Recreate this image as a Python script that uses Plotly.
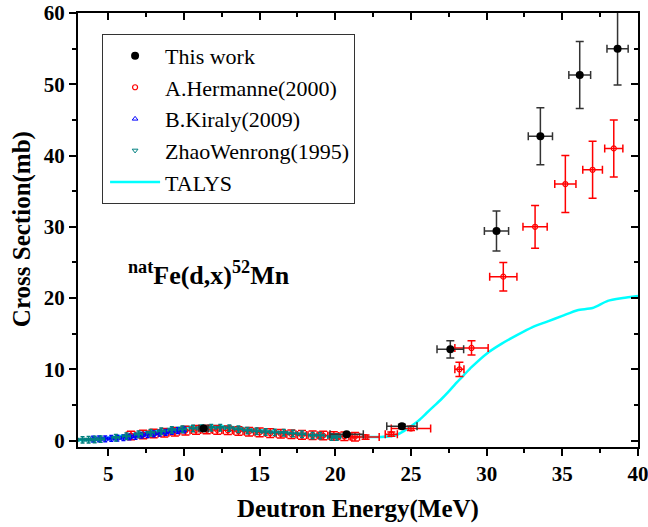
import plotly.graph_objects as go

# ---------------- data ----------------
talys_x = [3, 4, 5, 6, 7, 8, 9, 10, 11, 12, 13, 14, 15, 16, 17, 18, 19, 20, 21, 22, 23, 24,
           24.5, 25, 25.5, 26, 26.5, 27, 27.5, 28, 28.5, 29, 30, 31, 32, 33, 34, 35, 36, 37, 38, 39, 40]
talys_y = [0.05, 0.15, 0.4, 0.7, 1.0, 1.35, 1.65, 1.9, 2.05, 2.05, 1.95, 1.75, 1.5, 1.25, 1.0, 0.85,
           0.7, 0.6, 0.55, 0.5, 0.5, 0.75, 1.3, 2.0, 2.8, 3.8, 4.8, 5.8, 6.9, 8.1, 9.2, 10.3, 12.2,
           13.6, 14.8, 15.9, 16.7, 17.5, 18.3, 18.6, 19.6, 20.0, 20.3]

work_x = [11.3, 20.75, 24.4, 27.6, 30.65, 33.55, 36.15, 38.65]
work_y = [1.7, 0.9, 2.0, 12.8, 29.4, 42.7, 51.3, 55.0]
work_xerr = [0.3, 1.1, 1.0, 0.88, 0.8, 0.8, 0.72, 0.7]
work_yerr = [0.3, 0.2, 0.3, 1.2, 2.8, 4.0, 4.7, 5.1]

herm_x = [6.5, 7.3, 8.0, 8.7, 9.4, 10.1, 10.8, 11.5, 12.2, 12.9, 13.6, 14.3, 15.0, 15.7, 16.4,
          17.1, 17.8, 18.5, 19.2, 19.9, 20.6, 21.3, 22.0, 23.7, 25.0, 28.2, 29.0, 31.1, 33.2,
          35.2, 37.0, 38.4]
herm_y = [0.7, 0.85, 1.0, 1.1, 1.25, 1.4, 1.5, 1.55, 1.5, 1.45, 1.35, 1.25, 1.15, 1.05, 0.95,
          0.9, 0.8, 0.75, 0.7, 0.65, 0.6, 0.55, 0.5, 0.9, 1.7, 10.0, 13.0, 23.0, 30.0, 36.0,
          38.0, 41.0]
herm_xerr = [0.3] * 22 + [0.9, 0.4, 1.3, 0.3, 1.1, 0.9, 0.8, 0.7, 0.65, 0.6]
herm_yerr = [0.6] * 22 + [0.3, 0.3, 0.3, 1.0, 1.0, 2.0, 3.0, 4.0, 4.0, 4.0]

kir_x = [4.0, 4.4, 4.8, 5.2, 5.6, 6.0, 6.4, 6.8, 7.2, 7.6, 8.0, 8.4, 8.8, 9.2, 9.6, 10.0]
kir_y = [0.2, 0.25, 0.25, 0.3, 0.35, 0.4, 0.5, 0.6, 0.75, 0.85, 0.95, 1.05, 1.15, 1.3, 1.4, 1.5]
kir_xerr = [0.15] * 16
kir_yerr = [0.4] * 16

zhao_x = [3.3, 3.7, 4.1, 4.5, 5.5, 6.2, 7.0, 7.8, 8.5, 9.2, 9.9, 10.6, 11.2, 11.8, 12.4, 13.0,
          13.6, 14.2, 14.8, 15.4, 16.0, 16.6, 17.2, 17.8, 18.5, 19.0, 19.75, 20.1]
zhao_y = [0.1, 0.12, 0.15, 0.2, 0.4, 0.6, 0.9, 1.1, 1.3, 1.5, 1.6, 1.7, 1.75, 1.8, 1.8, 1.75,
          1.6, 1.4, 1.3, 1.2, 1.15, 1.1, 1.0, 0.9, 0.7, 0.7, 0.5, 0.5]
zhao_xerr = [0.25] * 28
zhao_yerr = [0.45] * 28

x_range = [3, 40]
y_range = [-0.9, 60]
x_ticks = [5, 10, 15, 20, 25, 30, 35, 40]
y_ticks = [0, 10, 20, 30, 40, 50, 60]

FONT = "Liberation Serif"
TEAL = "#008080"

fig = go.Figure()

fig.add_trace(go.Scatter(
    x=talys_x, y=talys_y, mode="lines", name="TALYS", legendrank=5,
    line=dict(color="#00ffff", width=2.5, shape="spline", smoothing=0.6)))

fig.add_trace(go.Scatter(
    x=herm_x, y=herm_y, mode="markers", name="A.Hermanne(2000)", legendrank=2,
    marker=dict(symbol="circle-open", size=5, color="red", line=dict(width=1.2, color="red")),
    error_x=dict(type="data", array=herm_xerr, color="red", thickness=1.5, width=4),
    error_y=dict(type="data", array=herm_yerr, color="red", thickness=1.5, width=4)))

fig.add_trace(go.Scatter(
    x=kir_x, y=kir_y, mode="markers", name="B.Kiraly(2009)", legendrank=3,
    marker=dict(symbol="triangle-up-open", size=5, color="blue", line=dict(width=1, color="blue")),
    error_x=dict(type="data", array=kir_xerr, color="blue", thickness=1.5, width=2),
    error_y=dict(type="data", array=kir_yerr, color="blue", thickness=1.5, width=2)))

fig.add_trace(go.Scatter(
    x=zhao_x, y=zhao_y, mode="markers", name="ZhaoWenrong(1995)", legendrank=4,
    marker=dict(symbol="triangle-down-open", size=5, color=TEAL, line=dict(width=1, color=TEAL)),
    error_x=dict(type="data", array=zhao_xerr, color=TEAL, thickness=1.5, width=2),
    error_y=dict(type="data", array=zhao_yerr, color=TEAL, thickness=1.5, width=2)))

fig.add_trace(go.Scatter(
    x=work_x, y=work_y, mode="markers", name="This work", legendrank=1,
    marker=dict(symbol="circle", size=8, color="black"),
    error_x=dict(type="data", array=work_xerr, color="#333333", thickness=1.5, width=4),
    error_y=dict(type="data", array=work_yerr, color="#333333", thickness=1.5, width=4)))

# empty trace so that the mirrored top/right frame axes are drawn
fig.add_trace(go.Scatter(x=[], y=[], xaxis="x2", yaxis="y2", showlegend=False, hoverinfo="skip"))

tickfont = dict(family=FONT, size=21, color="black", weight="bold")
titlefont = dict(family=FONT, size=25, color="black", weight="bold")

common = dict(showline=True, linewidth=2, linecolor="black", showgrid=False, zeroline=False,
              tickcolor="black", tickwidth=2, ticklen=7, automargin=False,
              ticklabeloverflow="allow")

fig.update_layout(
    width=648, height=527,
    margin=dict(l=78, r=10, t=13, b=80, autoexpand=False),
    plot_bgcolor="white", paper_bgcolor="white",
    showlegend=True,
    legend=dict(
        x=0.043, y=0.952, xanchor="left", yanchor="top",
        bgcolor="white", bordercolor="#333333", borderwidth=1,
        font=dict(family=FONT, size=22, color="black"),
        tracegroupgap=0, indentation=2, itemwidth=50, traceorder="normal",
    ),
    xaxis=dict(
        range=x_range, tickmode="array", tickvals=x_ticks, ticks="outside",
        minor=dict(dtick=2.5, tick0=0, ticks="outside", ticklen=4, tickwidth=2, tickcolor="black"),
        tickfont=tickfont,
        title=dict(text="Deutron Energy(MeV)", font=titlefont, standoff=14),
        **common,
    ),
    yaxis=dict(
        range=y_range, tickmode="array", tickvals=y_ticks, ticks="outside",
        minor=dict(dtick=5, tick0=0, ticks="outside", ticklen=4, tickwidth=2, tickcolor="black"),
        tickfont=tickfont,
        **common,
    ),
    xaxis2=dict(
        overlaying="x", side="top", anchor="y2", range=x_range, tickmode="array", tickvals=x_ticks,
        ticks="inside", showticklabels=False,
        minor=dict(dtick=2.5, tick0=0, ticks="inside", ticklen=4, tickwidth=2, tickcolor="black"),
        **common,
    ),
    yaxis2=dict(
        overlaying="y", side="right", anchor="x2", range=y_range, tickmode="array", tickvals=y_ticks,
        ticks="inside", showticklabels=False,
        minor=dict(dtick=5, tick0=0, ticks="inside", ticklen=4, tickwidth=2, tickcolor="black"),
        **common,
    ),
    annotations=[
        dict(
            x=11.65, y=23.4, xref="x", yref="y", showarrow=False,
            text="<sup>nat</sup>Fe(d,x)<sup>52</sup>Mn",
            font=dict(family=FONT, size=26, color="black", weight="bold"),
        ),
        dict(
            x=-0.1, y=0.502, xref="paper", yref="paper", showarrow=False, textangle=-90,
            xanchor="center", yanchor="middle",
            text="Cross Section(mb)", font=titlefont,
        ),
    ],
)

fig.write_html("out.html")
